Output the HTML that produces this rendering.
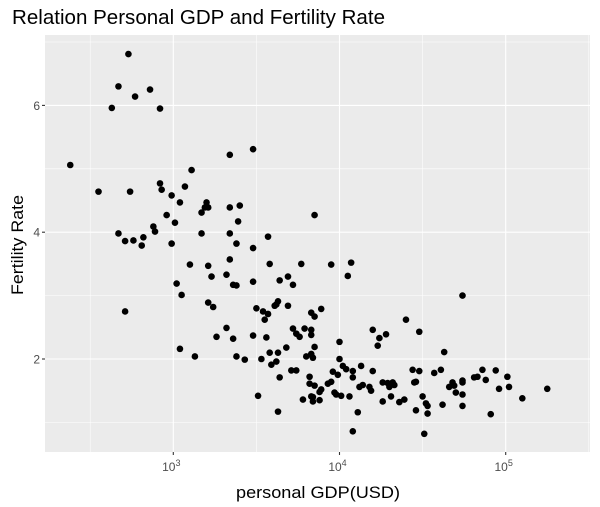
<!DOCTYPE html>
<html><head><meta charset="utf-8">
<style>
html,body{margin:0;padding:0;background:#fff;}
svg{display:block;font-family:"Liberation Sans",Arial,sans-serif;}
</style></head>
<body>
<svg id="chart" width="600" height="507" viewBox="0 0 600 507">
<text x="12" y="24" font-size="20.5" textLength="373" lengthAdjust="spacingAndGlyphs" fill="#000">Relation Personal GDP and Fertility Rate</text>
<rect x="45" y="35" width="545" height="417" fill="#ebebeb"/>
<g id="grid"></g>
<g id="points"></g>
<g id="axes"></g>
<text x="318" y="498" font-size="16.5" text-anchor="middle" textLength="164" lengthAdjust="spacingAndGlyphs" fill="#000">personal GDP(USD)</text>
<text transform="translate(23,245) rotate(-90)" font-size="16.5" text-anchor="middle" textLength="100" lengthAdjust="spacingAndGlyphs" fill="#000">Fertility Rate</text>
</svg>
<script>
const logGdp = [2.73,2.67,2.77,2.86,2.63,2.92,2.38,3.34,3.48,3.11,2.55,2.74,2.92,2.93,2.99,3.07,3.04,3.20,3.19,3.21,3.17,3.34,3.40,3.39,2.96,3.01,2.88,2.89,2.67,3.17,3.34,2.71,2.76,2.82,2.81,2.99,3.38,3.48,3.57,3.85,
3.10,3.21,3.34,3.58,3.77,3.23,3.32,3.36,3.38,3.48,3.64,3.69,3.72,3.02,3.05,3.21,3.24,2.71,3.50,3.54,3.57,3.55,3.61,3.62,3.63,3.69,3.83,3.85,3.32,3.26,3.36,3.48,3.56,3.72,3.74,3.76,3.79,3.83,3.83,3.68,3.85,3.04,3.13,3.38,3.43,3.53,3.58,3.63,3.80,3.83,3.84,3.59,3.62,3.71,3.74,3.64,3.82,3.82,3.85,3.51,3.78,3.83,3.84,3.63,
3.95,4.07,4.05,4.74,3.89,4.40,4.20,4.28,4.24,4.23,4.48,4.00,3.83,4.63,4.00,4.02,4.04,4.08,4.13,4.20,4.44,4.48,4.57,4.61,4.86,4.94,3.96,3.99,4.08,3.89,3.88,3.93,3.95,4.12,4.14,4.18,4.19,4.26,4.29,4.32,4.33,4.30,4.31,4.45,4.46,4.66,4.68,4.69,4.74,4.74,4.70,4.74,4.81,4.83,4.88,4.96,5.01,5.02,5.10,5.25,3.84,3.88,3.97,3.98,4.01,4.06,4.26,4.36,4.39,4.50,4.52,4.53,4.46,4.53,4.62,4.74,4.91,4.11,4.08,4.51];
const fertility = [6.81,6.30,6.14,6.25,5.96,5.95,5.06,5.22,5.31,4.98,4.64,4.64,4.77,4.67,4.58,4.72,4.47,4.47,4.39,4.39,4.31,4.39,4.42,4.17,4.27,4.15,4.09,4.01,3.98,3.98,3.98,3.86,3.87,3.92,3.79,3.82,3.82,3.75,3.93,4.27,
3.49,3.47,3.57,3.50,3.50,3.30,3.33,3.17,3.16,3.22,3.24,3.30,3.17,3.19,3.01,2.89,2.82,2.75,2.80,2.75,2.71,2.62,2.84,2.86,2.91,2.84,2.73,2.67,2.49,2.35,2.32,2.37,2.34,2.48,2.40,2.35,2.48,2.46,2.38,2.18,2.19,2.16,2.04,2.04,1.99,2.00,2.10,2.10,2.04,2.07,2.02,1.91,1.96,1.82,1.82,1.71,1.72,1.61,1.58,1.42,1.36,1.41,1.33,1.17,
3.49,3.52,3.31,3.00,2.79,2.62,2.46,2.39,2.33,2.21,2.43,2.27,2.08,2.11,2.00,1.89,1.84,1.81,1.89,1.81,1.83,1.81,1.78,1.83,1.83,1.82,1.80,1.75,1.71,1.52,1.48,1.61,1.64,1.56,1.59,1.56,1.50,1.63,1.62,1.63,1.59,1.56,1.41,1.63,1.64,1.56,1.63,1.58,1.66,1.63,1.47,1.44,1.71,1.72,1.67,1.53,1.72,1.56,1.38,1.53,1.40,1.35,1.47,1.44,1.42,1.41,1.33,1.32,1.36,1.41,1.30,1.26,1.19,1.14,1.28,1.26,1.13,1.16,0.86,0.82];
const yTicks = [2,4,6];
const yMinor = [1,3,5,7];
const xTicks = [3,4,5];
const xMinor = [2.5,3.5,4.5,5.5];

const NS = "http://www.w3.org/2000/svg";
const PL = 45, PR = 590, PT = 35, PB = 452;
function xs(l){ return 173.3 + (l - 3) * 166.2; }
function ys(f){ return 359 - (f - 2) * 63.4; }
function mk(tag, attrs, parent){
  const e = document.createElementNS(NS, tag);
  for (const k in attrs) e.setAttribute(k, attrs[k]);
  parent.appendChild(e); return e;
}
const grid = document.getElementById('grid');
const pts = document.getElementById('points');
const axes = document.getElementById('axes');

yMinor.forEach(v => {
  const y = ys(v); if (y < PT || y > PB) return;
  const l = mk('line', {x1:PL, x2:PR, y1:y, y2:y, stroke:'#fff', 'stroke-width':0.55}, grid);
  
  
});
xMinor.forEach(v => {
  const x = xs(v); if (x < PL || x > PR) return;
  const l = mk('line', {x1:x, x2:x, y1:PT, y2:PB, stroke:'#fff', 'stroke-width':0.55}, grid);
  
  
});
yTicks.forEach(v => {
  const y = ys(v);
  const l = mk('line', {x1:PL, x2:PR, y1:y, y2:y, stroke:'#fff', 'stroke-width':1.1}, grid);
  
  
  const t = mk('line', {x1:PL-3, x2:PL, y1:y, y2:y, stroke:'#333', 'stroke-width':1.1}, axes);
  
  
  const tx = mk('text', {x:PL-5, y:y+4.5, 'font-size':12, 'text-anchor':'end', fill:'#4d4d4d'}, axes);
  tx.textContent = v;
  
  
});
xTicks.forEach(v => {
  const x = xs(v);
  const l = mk('line', {x1:x, x2:x, y1:PT, y2:PB, stroke:'#fff', 'stroke-width':1.1}, grid);
  
  
  const t = mk('line', {x1:x, x2:x, y1:PB, y2:PB+3, stroke:'#333', 'stroke-width':1.1}, axes);
  
  
  const tx = mk('text', {x:x-2, y:PB+19, 'font-size':12, 'text-anchor':'middle', fill:'#4d4d4d'}, axes);
  
  
  const b = mk('tspan', {}, tx); b.textContent = '10';
  const s = mk('tspan', {dy:-5, 'font-size':9}, tx); s.textContent = v;
});
logGdp.forEach((l, i) => {
  const c = mk('circle', {cx:xs(l), cy:ys(fertility[i]), r:3.3, fill:'#000'}, pts);
  
  
});
</script>
</body></html>
